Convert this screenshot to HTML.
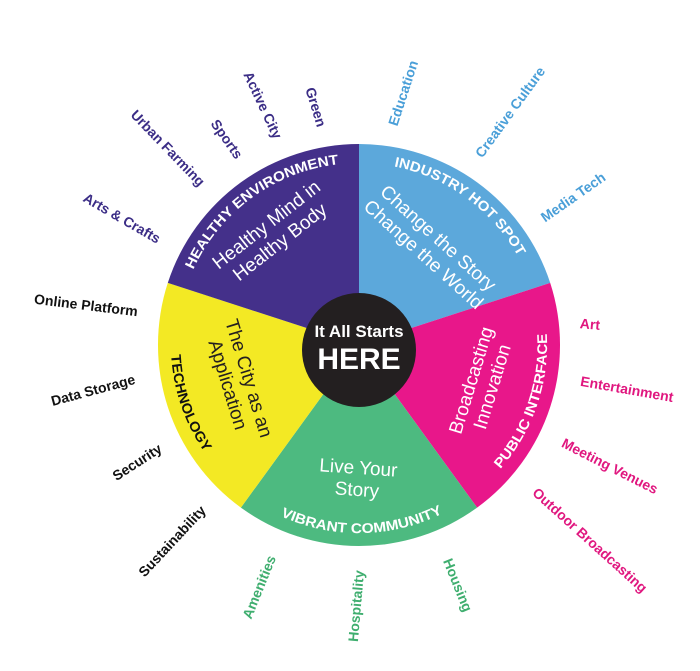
<!DOCTYPE html>
<html><head><meta charset="utf-8"><style>
html,body{margin:0;padding:0;background:#fff;width:700px;height:671px;overflow:hidden}
svg{display:block}
text{font-family:"Liberation Sans",sans-serif}
.o{font-weight:bold;font-size:14px;text-anchor:middle;dominant-baseline:central}
.in{font-size:19px;fill:#fff;text-anchor:middle}
.rim{font-weight:bold;font-size:14px;fill:#fff}
</style></head><body>
<svg width="700" height="671" viewBox="0 0 700 671" xmlns="http://www.w3.org/2000/svg">
<defs>
<path id="cw" d="M541,345 A182,182 0 1 1 177,345 A182,182 0 1 1 541,345"/>
<path id="ccw" d="M182.3,280.7 A188,188 0 1 0 535.7,409.3 A188,188 0 1 0 182.3,280.7"/>
</defs>
<path d="M359,345 L359,144 A201,201 0 0 1 550.2,282.9 Z" fill="#5ca8db"/>
<path d="M359,345 L550.2,282.9 A201,201 0 0 1 477.1,507.6 Z" fill="#e8178a"/>
<path d="M359,345 L477.1,507.6 A201,201 0 0 1 240.9,507.6 Z" fill="#4dba80"/>
<path d="M359,345 L240.9,507.6 A201,201 0 0 1 167.8,282.9 Z" fill="#f3e924"/>
<path d="M359,345 L167.8,282.9 A201,201 0 0 1 359,144 Z" fill="#44308a"/>
<circle cx="359" cy="350" r="57" fill="#231f20"/>
<text x="359" y="337" fill="#fff" font-weight="bold" font-size="17" text-anchor="middle">It All Starts</text>
<text x="359" y="369" fill="#fff" font-weight="bold" font-size="30" text-anchor="middle">HERE</text>

<text class="rim"><textPath href="#cw" startOffset="65%" text-anchor="middle" textLength="188" lengthAdjust="spacingAndGlyphs">HEALTHY ENVIRONMENT</textPath></text>
<text class="rim"><textPath href="#cw" startOffset="85%" text-anchor="middle" textLength="158" lengthAdjust="spacingAndGlyphs">INDUSTRY HOT SPOT</textPath></text>
<text class="rim"><textPath href="#ccw" startOffset="50.3%" text-anchor="middle" textLength="147" lengthAdjust="spacingAndGlyphs">PUBLIC INTERFACE</textPath></text>
<text class="rim"><textPath href="#ccw" startOffset="30.8%" text-anchor="middle" textLength="168" lengthAdjust="spacingAndGlyphs">VIBRANT COMMUNITY</textPath></text>
<text class="rim" style="fill:#111"><textPath href="#ccw" startOffset="10.8%" text-anchor="middle" textLength="104" lengthAdjust="spacingAndGlyphs">TECHNOLOGY</textPath></text>

<g transform="translate(272,232) rotate(-38)"><text class="in" y="-3">Healthy Mind in</text><text class="in" y="19">Healthy Body</text></g>
<g transform="translate(432,245) rotate(42)"><text class="in" y="-3">Change the Story</text><text class="in" y="19">Change the World</text></g>
<g transform="translate(240,381) rotate(73)"><text class="in" style="fill:#231f20" y="-3">The City as an</text><text class="in" style="fill:#231f20" y="19">Application</text></g>
<g transform="translate(480,383) rotate(-73)"><text class="in" y="-3">Broadcasting</text><text class="in" y="19">Innovation</text></g>
<g transform="translate(358,474) rotate(4)"><text class="in" y="0">Live Your</text><text class="in" y="22">Story</text></g>

<g fill="#3b2d86">
<text class="o" transform="translate(316,107) rotate(73)">Green</text>
<text class="o" transform="translate(263,105) rotate(65)">Active City</text>
<text class="o" transform="translate(227,139) rotate(55)">Sports</text>
<text class="o" transform="translate(168,148) rotate(46)">Urban Farming</text>
<text class="o" transform="translate(122,218) rotate(30)">Arts &amp; Crafts</text>
</g>
<g fill="#111">
<text class="o" transform="translate(86,305) rotate(7)">Online Platform</text>
<text class="o" transform="translate(93,390) rotate(-15)">Data Storage</text>
<text class="o" transform="translate(137,462) rotate(-33)">Security</text>
<text class="o" transform="translate(172,541) rotate(-47)">Sustainability</text>
</g>
<g fill="#4a9fd8">
<text class="o" transform="translate(403,93) rotate(-72)">Education</text>
<text class="o" transform="translate(510,112) rotate(-54)">Creative Culture</text>
<text class="o" transform="translate(573,197) rotate(-35)">Media Tech</text>
</g>
<g fill="#e0177f">
<text class="o" transform="translate(590,324) rotate(5)">Art</text>
<text class="o" transform="translate(627,389) rotate(10)">Entertainment</text>
<text class="o" transform="translate(610,466) rotate(27)">Meeting Venues</text>
<text class="o" transform="translate(590,540) rotate(42)">Outdoor Broadcasting</text>
</g>
<g fill="#3fae6f">
<text class="o" transform="translate(259,587) rotate(-68)">Amenities</text>
<text class="o" transform="translate(356,606) rotate(-85)">Hospitality</text>
<text class="o" transform="translate(458,585) rotate(68)">Housing</text>
</g>
</svg>
</body></html>
